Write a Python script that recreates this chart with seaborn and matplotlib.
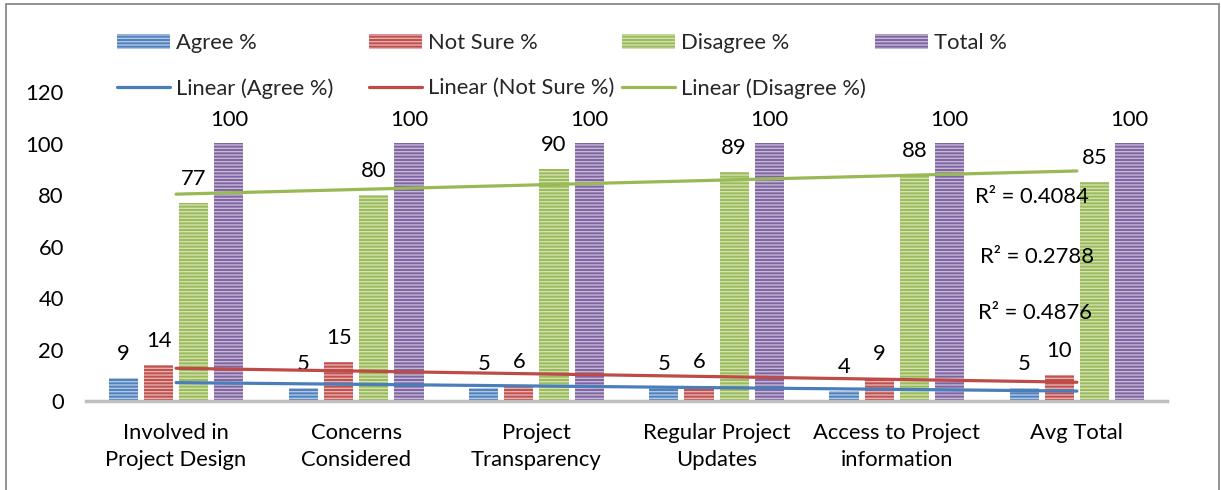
import numpy as np
import pandas as pd
import matplotlib
matplotlib.use("Agg")
import matplotlib.pyplot as plt
import matplotlib.colors as mcolors
from matplotlib.patches import Rectangle
import seaborn as sns

# ---- data ----
categories = ["Involved in\nProject Design", "Concerns\nConsidered", "Project\nTransparency",
              "Regular Project\nUpdates", "Access to Project\ninformation", "Avg Total"]
agree = [9, 5, 5, 5, 4, 5]
not_sure = [14, 15, 6, 6, 9, 10]
disagree = [77, 80, 90, 89, 88, 85]
total = [100, 100, 100, 100, 100, 100]
series_names = ["Agree %", "Not Sure %", "Disagree %", "Total %"]
trend_names = ["Linear (Agree %)", "Linear (Not Sure %)", "Linear (Disagree %)"]
y_ticks = [0, 20, 40, 60, 80, 100, 120]

# ---- style ----
sns.set_theme(style="white")
plt.rcParams['font.family'] = ['Lato', 'DejaVu Sans']
plt.rcParams['hatch.linewidth'] = 1.0
FS = 15.8

W, H = 1221, 490
fig = plt.figure(figsize=(W / 100, H / 100), dpi=100)
fig.patch.set_facecolor("white")
ax = fig.add_axes([86 / W, 1 - 401 / H, (1167 - 86) / W, (401 - 92) / H])

df = pd.DataFrame({
    "category": categories * 4,
    "series": np.repeat(series_names, len(categories)),
    "value": agree + not_sure + disagree + total,
})

bar_colors = ["#4F81BD", "#C0504D", "#9BBB59", "#8064A2"]
line_colors = ["#4A7EBB", "#BE4B48", "#98B954"]

sns.barplot(data=df, x="category", y="value", hue="series", order=categories,
            hue_order=series_names, palette=bar_colors, width=0.78, gap=0.17,
            saturation=1, ax=ax, legend=False, errorbar=None)

def lighten(c, f):
    r, g, b = mcolors.to_rgb(c)
    return (r + (1 - r) * f, g + (1 - g) * f, b + (1 - b) * f)

for cont, col in zip(ax.containers, bar_colors):
    for p in cont:
        p.set_hatch("-----")
        p.set_edgecolor(lighten(col, 0.55))
        p.set_linewidth(0)
    ax.bar_label(cont, padding=10, fontsize=FS, color="black")

# ---- linear trend lines ----
xs = np.arange(len(categories))
trend_lines = []
r2_vals = []
for vals, col, name in zip([agree, not_sure, disagree], line_colors, trend_names):
    coef = np.polyfit(xs, vals, 1)
    fit = np.polyval(coef, xs)
    v = np.asarray(vals, float)
    r2 = 1 - np.sum((v - fit) ** 2) / np.sum((v - v.mean()) ** 2)
    r2_vals.append(r2)
    ln, = ax.plot(xs[[0, -1]], fit[[0, -1]], color=col, lw=2.3, solid_capstyle="round", label=name, zorder=5)
    trend_lines.append(ln)

r2_pos = [(4.77, 34.1), (4.78, 55.8), (4.75, 79.1)]  # agree, not sure, disagree
for r2, (px, py) in zip(r2_vals, r2_pos):
    ax.text(px, py, f"R\u00b2 = {r2:.4f}", ha="center", va="center", fontsize=FS, color="black", zorder=6)

# ---- axes ----
ax.set_xlim(-0.5, 5.5)
ax.set_ylim(0, 120)
ax.set_yticks(y_ticks)
ax.set_xlabel("")
ax.set_ylabel("")
for s in ["top", "right", "left"]:
    ax.spines[s].set_visible(False)
ax.spines["bottom"].set_color("#BFBFBF")
ax.spines["bottom"].set_linewidth(2.5)
ax.tick_params(axis="y", length=0, pad=16, labelsize=FS, labelcolor="black")
ax.tick_params(axis="x", length=0, pad=16, labelsize=FS, labelcolor="black")
for t in ax.get_xticklabels():
    t.set_linespacing(1.45)
ax.grid(False)

# ---- legend (4 columns) ----
bar_handles = [cont[0] for cont in ax.containers]
col_x = [117, 369, 622, 875]
columns = [
    ([bar_handles[0], trend_lines[0]], [series_names[0], trend_names[0]]),
    ([bar_handles[1], trend_lines[1]], [series_names[1], trend_names[1]]),
    ([bar_handles[2], trend_lines[2]], [series_names[2], trend_names[2]]),
    ([bar_handles[3]], [series_names[3]]),
]
for x0, (hs, ls) in zip(col_x, columns):
    fig.legend(hs, ls, loc="upper left", bbox_to_anchor=(x0 / W, 1 - 33 / H),
               bbox_transform=fig.transFigure, frameon=False, fontsize=FS,
               borderpad=0, borderaxespad=0, handlelength=2.4, handleheight=0.65,
               handletextpad=0.3, labelspacing=1.15)

# ---- outer border ----
fig.add_artist(Rectangle((6 / W, -0.05), (1219 - 6) / W, 1.05 - 4 / H,
                         transform=fig.transFigure, fill=False,
                         edgecolor="#808080", lw=1.2))

fig.savefig("out.png", dpi=100, facecolor="white")
